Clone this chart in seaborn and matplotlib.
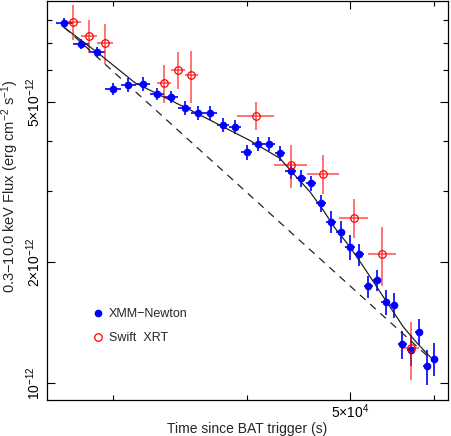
import numpy as np
import pandas as pd
import matplotlib
matplotlib.use("Agg")
import matplotlib.pyplot as plt
import matplotlib.ticker as mticker
import seaborn as sns

# ---------------- data ----------------
xmm_t = [27000, 28000, 29000, 30000, 31000, 32000, 33000, 34000, 35000, 36000,
         37000, 38000, 39000, 40000, 41000, 42000, 43000, 44000, 45000, 46000,
         47000, 48000, 49000, 50000, 51000, 52000, 53000, 54000, 55000, 56000,
         57000, 58000, 59000, 60000]
xmm_terr = [500] * 34
xmm_f = [7.88, 6.97, 6.65, 5.38, 5.51, 5.54, 5.23, 5.14, 4.83, 4.70,
         4.69, 4.38, 4.34, 3.75, 3.93, 3.93, 3.73, 3.37, 3.23, 3.14,
         2.80, 2.52, 2.38, 2.18, 2.09, 1.74, 1.80, 1.59, 1.56, 1.25,
         1.21, 1.34, 1.10, 1.15]
xmm_ferr = [0.20, 0.20, 0.19, 0.18, 0.22, 0.22, 0.18, 0.18, 0.19, 0.19,
            0.19, 0.18, 0.17, 0.16, 0.16, 0.16, 0.16, 0.15, 0.15, 0.14,
            0.14, 0.16, 0.15, 0.16, 0.13, 0.11, 0.11, 0.11, 0.11, 0.10,
            0.11, 0.10, 0.11, 0.11]

xrt_t = [27500, 28500, 29500, 33500, 34500, 35500, 40800, 44000, 47200, 50400, 53600, 57000]
xrt_terr = [500, 500, 500, 500, 500, 500, 1600, 1600, 1600, 1600, 1650, 1000]
xrt_f = [7.92, 7.30, 7.01, 5.58, 6.02, 5.83, 4.62, 3.49, 3.32, 2.58, 2.09, 1.22]
xrt_ferr = [0.78, 0.69, 0.79, 0.61, 0.63, 0.86, 0.37, 0.43, 0.37, 0.29, 0.35, 0.20]

model_t = [26870, 29040, 31450, 35410, 40300, 43000, 43930, 45870, 47200, 48410,
           50000, 51460, 53720, 56090, 57740, 59840]
model_f = [7.73, 6.62, 5.58, 4.78, 4.01, 3.62, 3.39, 2.99, 2.69, 2.43,
           2.18, 1.95, 1.64, 1.38, 1.26, 1.14]

pl_t = [27000, 60000]
pl_f = [7.67, 1.126]

scale = 1e-12
ytick_vals = [1, 2, 5]
ytick_labels = ["10$^{-12}$", "2×10$^{-12}$", "5×10$^{-12}$"]
yminor_vals = [3, 4, 6, 7, 8]
xtick_vals = [50000]
xtick_labels = ["5×10$^{4}$"]
xminor_vals = [30000, 40000, 60000]

# ---------------- style ----------------
sns.set_theme(style="ticks")
plt.rcParams["font.family"] = ["Liberation Sans", "DejaVu Sans"]
plt.rcParams["mathtext.fontset"] = "custom"
plt.rcParams["mathtext.rm"] = "Liberation Sans"
plt.rcParams["mathtext.it"] = "Liberation Sans"
plt.rcParams["mathtext.default"] = "regular"
plt.rcParams["axes.unicode_minus"] = True

fs = 10
fig = plt.figure(figsize=(4.51, 4.36), dpi=100)
ax = fig.add_axes([47 / 451, 1 - 400 / 436, 401 / 451, 399 / 436])

xmm = pd.DataFrame({"t": xmm_t, "f": np.array(xmm_f) * scale})
xrt = pd.DataFrame({"t": xrt_t, "f": np.array(xrt_f) * scale})
mdl = pd.DataFrame({"t": model_t, "f": np.array(model_f) * scale})
pl = pd.DataFrame({"t": pl_t, "f": np.array(pl_f) * scale})

ax.set_xscale("log")
ax.set_yscale("log")

# error bars
ax.errorbar(xmm_t, xmm["f"], xerr=xmm_terr, yerr=np.array(xmm_ferr) * scale,
            fmt="none", ecolor="#0000ff", elinewidth=1.2, capsize=0, zorder=2)
ax.errorbar(xrt_t, xrt["f"], xerr=xrt_terr, yerr=np.array(xrt_ferr) * scale,
            fmt="none", ecolor="#ff2020", elinewidth=1.1, capsize=0, alpha=0.8, zorder=2)

# model lines
sns.lineplot(data=mdl, x="t", y="f", ax=ax, color="#222222", lw=0.9, zorder=3)
sns.lineplot(data=pl, x="t", y="f", ax=ax, color="#222222", lw=0.9,
             linestyle=(0, (6, 5)), zorder=3)

# points
ax.plot(xmm_t, xmm["f"], "o", color="#0000ff", ms=4.5, mec="#0000ff", zorder=4,
        label="XMM−Newton", linestyle="none")
ax.plot(xrt_t, xrt["f"], "o", mfc="none", mec="#ff0000", ms=5.4, mew=0.9, zorder=4,
        label="Swift  XRT", linestyle="none")

ax.set_xlim(26010, 61780)
ax.set_ylim(0.9072e-12, 8.918e-12)

# ticks
ax.xaxis.set_major_locator(mticker.FixedLocator(xtick_vals))
ax.xaxis.set_major_formatter(mticker.FixedFormatter(xtick_labels))
ax.xaxis.set_minor_locator(mticker.FixedLocator(xminor_vals))
ax.xaxis.set_minor_formatter(mticker.NullFormatter())
ax.yaxis.set_major_locator(mticker.FixedLocator([v * scale for v in ytick_vals]))
ax.yaxis.set_major_formatter(mticker.FixedFormatter(ytick_labels))
ax.yaxis.set_minor_locator(mticker.FixedLocator([v * scale for v in yminor_vals]))
ax.yaxis.set_minor_formatter(mticker.NullFormatter())

ax.tick_params(which="both", direction="in", top=True, right=True, colors="black",
               labelsize=fs, width=0.8)
ax.tick_params(which="major", length=6)
ax.tick_params(which="minor", length=3.5)
ax.tick_params(axis="x", which="major", pad=2)
ax.tick_params(axis="y", which="major", pad=3)
for lab in ax.get_yticklabels():
    lab.set_rotation(90)
    lab.set_va("center")

for s in ax.spines.values():
    s.set_color("black")
    s.set_linewidth(0.9)

ax.set_xlabel("Time since BAT trigger (s)", fontsize=fs)
ax.set_ylabel("0.3−10.0 keV Flux (erg cm$^{-2}$ s$^{-1}$)", fontsize=10.5)
ax.xaxis.set_label_coords(0.5, -0.055)
ax.yaxis.set_label_coords(-0.066, 0.535)

leg = ax.legend(loc="upper left", bbox_to_anchor=(0.105, 0.243), frameon=False,
                fontsize=9, handlelength=0.6, handletextpad=0.6, labelspacing=0.95,
                borderaxespad=0)

fig.savefig("out.png", dpi=100)
